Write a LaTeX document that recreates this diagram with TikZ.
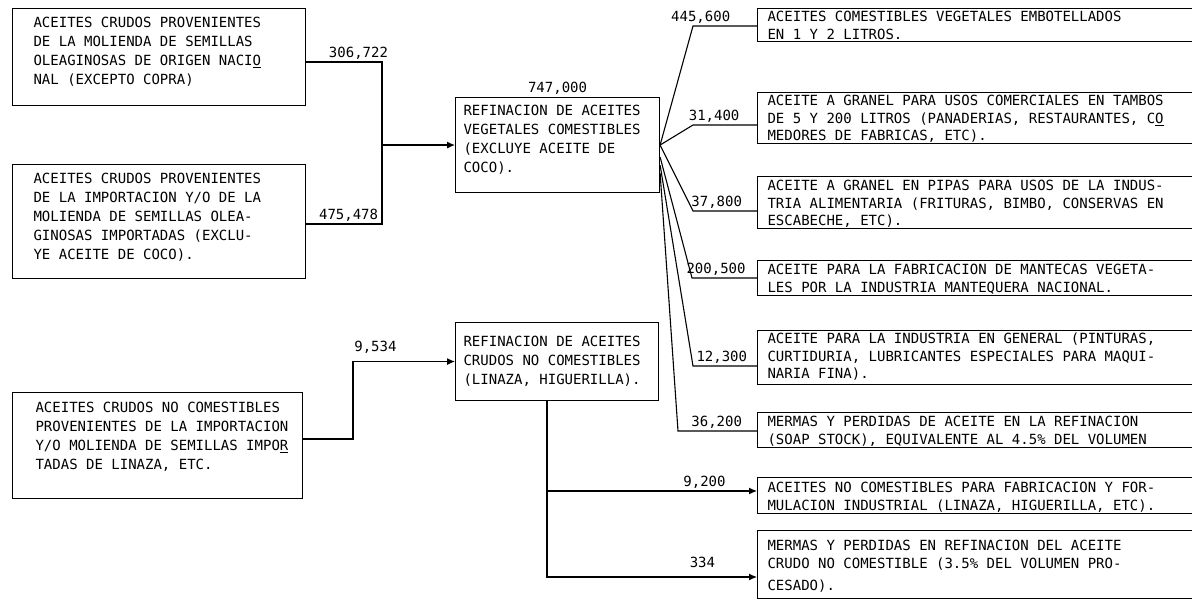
\documentclass[tikz,border=0pt]{standalone}
\usepackage{fontspec}
\setmonofont{DejaVu Sans Mono}
\usetikzlibrary{arrows.meta, positioning, calc}
\tikzset{
  accaja/.style = {draw=black, line width=1.1pt, inner sep=0pt,
    anchor=north west, font=\ttfamily\fontsize{14}{19}\selectfont},
  accajad/.style = {accaja, font=\ttfamily\fontsize{14}{17.5}\selectfont},
  aclig/.style = {draw=black, line width=1.1pt},
  acseta/.style = {aclig, -{Latex[length=8pt, width=7pt]}},
  acnum/.style = {font=\ttfamily\fontsize{14}{17}\selectfont, inner sep=2pt}
}
% #1 margen izq., #2 margen sup., #3 alto, #4 ancho, #5 texto
\newcommand{\acT}[5]{\parbox[t][#3pt][t]{#4pt}{\raggedright
  \leftskip=#1pt\relax\vspace*{#2pt}\strut #5}}

\begin{document}
\begin{tikzpicture}[x=1pt, y=-1pt]
  \useasboundingbox (0,0) rectangle (1192,601);
  \clip (0,0) rectangle (1192,601);
  % materias primas
  \node [accaja] (l1) at (12,8) {\acT{21}{6}{97}{293}{ACEITES CRUDOS PROVENIENTES\\
    DE LA MOLIENDA DE SEMILLAS\\OLEAGINOSAS DE ORIGEN NACI\underline{O}\\
    NAL (EXCEPTO COPRA)}};
  \node [accaja] (l2) at (12,164) {\acT{21}{6}{114}{293}{ACEITES CRUDOS PROVENIENTES\\
    DE LA IMPORTACION Y/O DE LA\\MOLIENDA DE SEMILLAS OLEA-\\
    GINOSAS IMPORTADAS (EXCLU-\\YE ACEITE DE COCO).}};
  \node [accaja] (l3) at (12,392) {\acT{23}{7}{106}{290}{ACEITES CRUDOS NO COMESTIBLES\\
    PROVENIENTES DE LA IMPORTACION\\Y/O MOLIENDA DE SEMILLAS IMPO\underline{R}\\
    TADAS DE LINAZA, ETC.}};
  % refinacion
  \node [accaja, label={[acnum]above:747,000}] (m1) at (455,97)
    {\acT{8}{5}{95}{204}{REFINACION DE ACEITES\\VEGETALES COMESTIBLES\\
    (EXCLUYE ACEITE DE\\COCO).}};
  \node [accaja] (m2) at (455,322) {\acT{8}{11}{78}{203}{REFINACION DE ACEITES\\
    CRUDOS NO COMESTIBLES\\(LINAZA, HIGUERILLA).}};
  % destinos
  \node [accajad] (r1) at (757,8) {\acT{10}{1}{33}{600}{ACEITES COMESTIBLES VEGETALES EMBOTELLADOS\\
    EN 1 Y 2 LITROS.}};
  \node [accajad] (r2) at (757,92) {\acT{10}{1}{51}{600}{ACEITE A GRANEL PARA USOS COMERCIALES EN TAMBOS\\
    DE 5 Y 200 LITROS (PANADERIAS, RESTAURANTES, C\underline{O}\\
    MEDORES DE FABRICAS, ETC).}};
  \node [accajad] (r3) at (757,176) {\acT{10}{2}{52}{600}{ACEITE A GRANEL EN PIPAS PARA USOS DE LA INDUS-\\
    TRIA ALIMENTARIA (FRITURAS, BIMBO, CONSERVAS EN\\ESCABECHE, ETC).}};
  \node [accajad] (r4) at (757,260) {\acT{10}{2}{35}{600}{ACEITE PARA LA FABRICACION DE MANTECAS VEGETA-\\
    LES POR LA INDUSTRIA MANTEQUERA NACIONAL.}};
  \node [accajad] (r5) at (757,330) {\acT{10}{1}{54}{600}{ACEITE PARA LA INDUSTRIA EN GENERAL (PINTURAS,\\
    CURTIDURIA, LUBRICANTES ESPECIALES PARA MAQUI-\\NARIA FINA).}};
  \node [accajad] (r6) at (757,412) {\acT{10}{2}{35}{600}{MERMAS Y PERDIDAS DE ACEITE EN LA REFINACION\\
    (SOAP STOCK), EQUIVALENTE AL 4.5\% DEL VOLUMEN}};
  \node [accajad] (r7) at (757,477) {\acT{10}{3}{36}{600}{ACEITES NO COMESTIBLES PARA FABRICACION Y FOR-\\
    MULACION INDUSTRIAL (LINAZA, HIGUERILLA, ETC).}};
  \node [accajad] (r8) at (757,530) {\acT{10}{8}{68}{600}{MERMAS Y PERDIDAS EN REFINACION DEL ACEITE\\
    CRUDO NO COMESTIBLE (3.5\% DEL VOLUMEN PRO-\\[5pt]CESADO).}};
  % puntos de quiebre
  \coordinate (j1) at (382,62);
  \coordinate (j2) at (382,224);
  \coordinate (j3) at (353,439);
  \coordinate (k1) at (547,491);
  \coordinate (k2) at (547,577);
  \coordinate (c1) at (693,26);
  \coordinate (c2) at (693,125);
  \coordinate (c3) at (693,211);
  \coordinate (c4) at (692,278);
  \coordinate (c5) at (693,366);
  \coordinate (c6) at (678,431);
  % entradas
  \draw [aclig] (l1.east |- j1) -- node [acnum, above, pos=0.69] (v1) {306,722} (j1)
    -- (j2) -- node [acnum, above, pos=0.44] (v2) {475,478} (l2.east |- j2);
  \draw [acseta] (j1 |- m1.west) -- (m1.west);
  \draw [acseta] (l3.east |- j3) -- (j3) -- (j3 |- m2.west)
    -- node [acnum, above=6pt, pos=0.22] (v3) {9,534} (m2.west);
  % salidas comestibles
  \draw [aclig] (m1.east) -- (c1) -- node [acnum, above, pos=0.12] (v4) {445,600} (c1 -| r1.west);
  \draw [aclig] (m1.east) -- (c2) -- node [acnum, above, pos=0.33] (v5) {31,400} (c2 -| r2.west);
  \draw [aclig] (m1.east) -- (c3) -- node [acnum, above, pos=0.37] (v6) {37,800} (c3 -| r3.west);
  \draw [aclig] ([yshift=-12]m1.east) -- (c4) -- node [acnum, above, pos=0.37] (v7) {200,500} (c4 -| r4.west);
  \draw [aclig] ([yshift=-20]m1.east) -- (c5) -- node [acnum, above, pos=0.45] (v8) {12,300} (c5 -| r5.west);
  \draw [aclig] ([yshift=-28]m1.east) -- (c6) -- node [acnum, above, pos=0.49] (v9) {36,200} (c6 -| r6.west);
  % salidas no comestibles
  \draw [acseta] (m2.south -| k1) -- (k2) -- node [acnum, above=7pt, pos=0.74] (v10) {334} (k2 -| r8.west);
  \draw [acseta] (k1) -- node [acnum, above, pos=0.75] (v11) {9,200} (k1 -| r7.west);
\end{tikzpicture}
\end{document}
